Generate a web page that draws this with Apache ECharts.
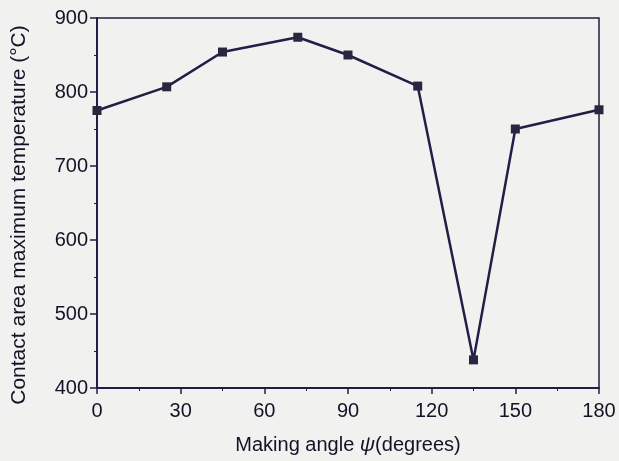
<!DOCTYPE html>
<html>
<head>
<meta charset="utf-8">
<script src="https://cdn.jsdelivr.net/npm/echarts@6/dist/echarts.min.js"></script>
<style>
  html, body { margin: 0; padding: 0; background: #f1f1f0; }
  #chart { width: 619px; height: 461px; }
</style>
</head>
<body>
<div id="chart"></div>
<script>
  // angles (degrees) and max temperature (°C)
  var angles = [0, 25, 45, 72, 90, 115, 135, 150, 180]
  var temps = [775, 807, 854, 874, 850, 808, 438, 750, 776]
  var xTicks = [0, 30, 60, 90, 120, 150, 180]
  var yTicks = [400, 500, 600, 700, 800, 900]

  var ink = '#251d46'
  var txt = '#141226'
  var pts = angles.map(function (a, i) { return [a, temps[i]] })

  var chart = echarts.init(document.getElementById('chart'))
  chart.setOption({
    backgroundColor: '#f1f1f0',
    textStyle: { fontFamily: 'Liberation Sans, Arial, sans-serif' },
    grid: {
      left: 97, right: 20, top: 18, bottom: 72,
      show: true, borderColor: ink, borderWidth: 1.5, backgroundColor: 'transparent'
    },
    xAxis: {
      type: 'value', min: xTicks[0], max: xTicks[xTicks.length - 1], interval: 30,
      name: 'Making angle {i|ψ}(degrees)',
      nameLocation: 'middle', nameGap: 47,
      nameTextStyle: {
        color: txt, fontSize: 20,
        rich: { i: { fontStyle: 'italic', fontSize: 21, color: txt } }
      },
      axisLine: { lineStyle: { color: ink, width: 2 } },
      axisTick: { length: 6, lineStyle: { color: ink, width: 1.5 } },
      minorTick: { show: true, splitNumber: 2, length: 3, lineStyle: { color: ink } },
      axisLabel: { color: txt, fontSize: 20, margin: 13 },
      splitLine: { show: false }
    },
    yAxis: {
      type: 'value', min: yTicks[0], max: yTicks[yTicks.length - 1], interval: 100,
      name: 'Contact area maximum temperature (°C)',
      nameLocation: 'middle', nameGap: 67,
      nameTextStyle: { color: txt, fontSize: 21, padding: [0, 24, 0, 0] },
      axisLine: { show: true, lineStyle: { color: ink, width: 2 } },
      axisTick: { show: true, length: 7, lineStyle: { color: ink, width: 1.5 } },
      minorTick: { show: true, splitNumber: 2, length: 3, lineStyle: { color: ink } },
      axisLabel: { color: txt, fontSize: 20, margin: 9 },
      splitLine: { show: false }
    },
    series: [{
      type: 'line',
      data: pts,
      symbol: 'rect',
      symbolSize: 9,
      clip: false,
      lineStyle: { color: ink, width: 2.5 },
      itemStyle: { color: '#2b2640' }
    }]
  })
</script>
</body>
</html>
